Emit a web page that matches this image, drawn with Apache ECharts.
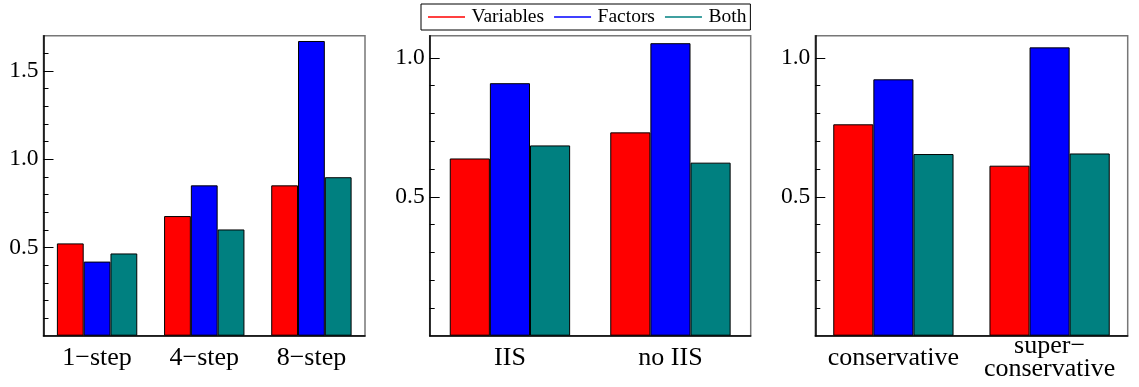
<!DOCTYPE html>
<html>
<head>
<meta charset="utf-8">
<script src="https://cdn.jsdelivr.net/npm/echarts@6/dist/echarts.min.js"></script>
<style>
html,body{margin:0;padding:0;background:#fff;}
#chart{width:1139px;height:387px;}
</style>
</head>
<body>
<div id="chart"></div>
<script>
// ---- data ----
const seriesNames = ['Variables', 'Factors', 'Both'];

const cats1 = ['1\u2212step', '4\u2212step', '8\u2212step'];
const variables1 = [0.523, 0.678, 0.852];
const factors1 = [0.420, 0.852, 1.670];
const both1 = [0.466, 0.602, 0.898];

const cats2 = ['IIS', 'no IIS'];
const variables2 = [0.638, 0.732];
const factors2 = [0.909, 1.053];
const both2 = [0.685, 0.623];

const cats3 = ['conservative', 'super\u2212\nconservative'];
const variables3 = [0.761, 0.612];
const factors3 = [0.923, 1.038];
const both3 = [0.654, 0.656];

const yMax1 = 1.7;
const yMax23 = 1.08;
const yLabels1 = [0.5, 1.0, 1.5];
const yLabels23 = [0.5, 1.0];
const yMinor1 = [0.1, 0.2, 0.3, 0.4, 0.6, 0.7, 0.8, 0.9, 1.1, 1.2, 1.3, 1.4, 1.6];
const yMinor23 = [0.1, 0.2, 0.3, 0.4, 0.6, 0.7, 0.8, 0.9];

// ---- styling ----
const FONT = 'Liberation Serif';
const colors = ['#ff0000', '#0000ff', '#008080'];

const grids = [
  {left: 43.5, top: 35.7, width: 321.5, height: 300},
  {left: 429.7, top: 35.7, width: 321, height: 300},
  {left: 815.3, top: 35.7, width: 312.4, height: 300}
];
const panels = [
  {cats: cats1, vals: [variables1, factors1, both1], max: yMax1, labels: yLabels1, minor: yMinor1, gap: '25%'},
  {cats: cats2, vals: [variables2, factors2, both2], max: yMax23, labels: yLabels23, minor: yMinor23, gap: '25%'},
  {cats: cats3, vals: [variables3, factors3, both3], max: yMax23, labels: yLabels23, minor: yMinor23, gap: '23%'}
];

const option = {
  animation: false,
  backgroundColor: '#fff',
  legend: {
    data: seriesNames,
    left: 421,
    top: 4,
    orient: 'horizontal',
    icon: 'rect',
    itemWidth: 37,
    itemHeight: 1.5,
    itemGap: 10,
    padding: [3, 4, 3, 7],
    borderColor: '#000',
    borderWidth: 1,
    itemStyle: {borderWidth: 0},
    textStyle: {fontFamily: FONT, fontSize: 19.5, color: '#000', padding: [0, 0, 0, 1.5]}
  },
  grid: grids.map(g => Object.assign({show: true, borderColor: '#777', borderWidth: 1.5, backgroundColor: 'transparent', containLabel: false}, g)),
  xAxis: panels.map((p, i) => ({
    type: 'category',
    gridIndex: i,
    data: p.cats,
    axisLine: {show: true, lineStyle: {color: '#000', width: 1.5}},
    axisTick: {show: false},
    splitLine: {show: false},
    axisLabel: {
      fontFamily: FONT, fontSize: 26, color: '#000',
      margin: 22, verticalAlign: 'middle', lineHeight: 23, interval: 0
    }
  })),
  yAxis: [],
  series: []
};

panels.forEach((p, i) => {
  // major ticks + labels
  option.yAxis.push({
    type: 'value', gridIndex: i, min: 0, max: p.max, position: 'left',
    axisLine: {show: true, lineStyle: {color: '#000', width: 1.5}},
    axisTick: {show: true, inside: true, length: 10, lineStyle: {color: '#000', width: 1}, customValues: p.labels},
    axisLabel: {show: true, fontFamily: FONT, fontSize: 23.5, color: '#000', margin: 5,
      customValues: p.labels, formatter: v => v.toFixed(1)},
    splitLine: {show: false}
  });
  // minor ticks
  option.yAxis.push({
    type: 'value', gridIndex: i, min: 0, max: p.max, position: 'left', offset: 0,
    axisLine: {show: false},
    axisTick: {show: true, inside: true, length: 5, lineStyle: {color: '#000', width: 1}, customValues: p.minor},
    axisLabel: {show: false},
    splitLine: {show: false}
  });
  seriesNames.forEach((name, k) => {
    option.series.push({
      name: name,
      type: 'bar',
      xAxisIndex: i,
      yAxisIndex: i * 2,
      data: p.vals[k],
      barGap: '0%',
      barCategoryGap: p.gap,
      itemStyle: {color: colors[k], borderColor: '#000', borderWidth: 1}
    });
  });
});

const chart = echarts.init(document.getElementById('chart'), null, {renderer: 'canvas'});
chart.setOption(option);
</script>
</body>
</html>
